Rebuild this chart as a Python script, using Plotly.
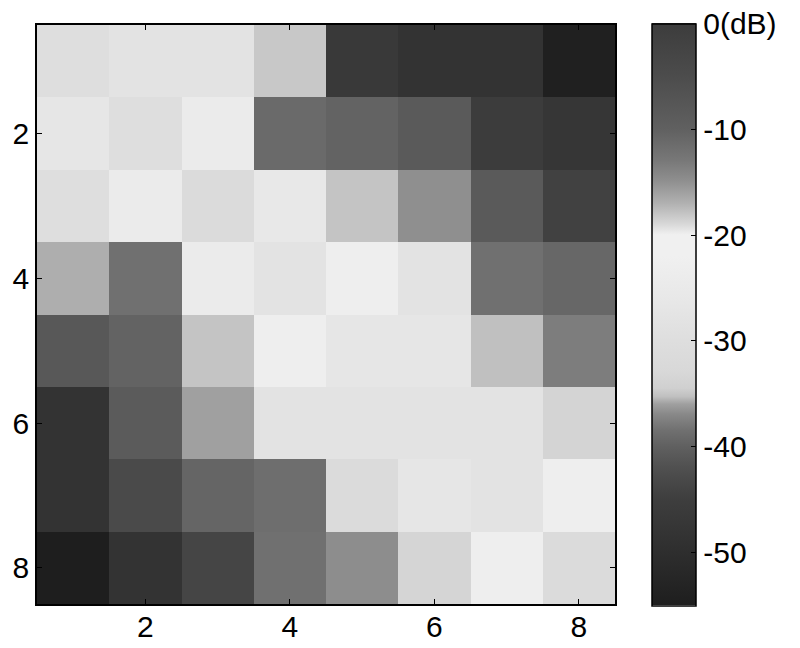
import plotly.graph_objects as go

cols = [1, 2, 3, 4, 5, 6, 7, 8]
rows = [1, 2, 3, 4, 5, 6, 7, 8]

row1 = [-30, -28, -28, -34.9, -46.5, -48.5, -48.5, -54.5]
row2 = [-27, -30, -24.5, -39.1, -39.7, -40.8, -45.5, -47.5]
row3 = [-30, -24.5, -31.5, -26, -35.1, -36.7, -40.8, -44.5]
row4 = [-35.7, -38.5, -24.5, -28, -23, -28, -38.5, -39.3]
row5 = [-41, -39.7, -35.1, -23, -27, -27, -35.3, -37.7]
row6 = [-48.5, -40.6, -36, -28, -28, -28, -28, -33.8]
row7 = [-48.5, -43, -39.5, -38.7, -31.5, -27, -28, -23]
row8 = [-55, -48.5, -43.8, -38.5, -36.8, -33.5, -23, -31.5]
z = [row1, row2, row3, row4, row5, row6, row7, row8]

axis_ticks = [2, 4, 6, 8]
cbar_tickvals = [0, -10, -20, -30, -40, -50]
cbar_ticktext = ["0(dB)", "-10", "-20", "-30", "-40", "-50"]

zmin, zmax = -55, 0
stops = [
    (-55, "#1e1e1e"), (-50, "#2e2e2e"), (-45, "#3e3e3e"), (-42, "#505050"),
    (-40, "#606060"), (-38.5, "#707070"), (-37, "#888888"), (-36, "#a0a0a0"),
    (-35.3, "#c0c0c0"), (-34.5, "#d0d0d0"), (-33, "#d8d8d8"), (-30, "#dedede"),
    (-26, "#e8e8e8"), (-22, "#f0f0f0"), (-20, "#f0f0f0"), (-19, "#d8d8d8"),
    (-17, "#b0b0b0"), (-15, "#909090"), (-13, "#787878"), (-10, "#606060"),
    (-5, "#4c4c4c"), (0, "#3c3c3c"),
]
colorscale = [[(v - zmin) / (zmax - zmin), c] for v, c in stops]

font = dict(family="Liberation Sans, Arial", size=30, color="black")

fig = go.Figure(go.Heatmap(
    x=cols, y=rows, z=z, zmin=zmin, zmax=zmax, colorscale=colorscale,
    colorbar=dict(
        x=1.064, xanchor="left", y=0.5, yanchor="middle", len=1.005,
        thickness=44, outlinecolor="black", outlinewidth=1.5,
        tickvals=cbar_tickvals, ticktext=cbar_ticktext,
        ticks="inside", ticklen=5, tickcolor="black",
        tickfont=font, ypad=0, xpad=0,
    ),
))

axis_common = dict(
    tickvals=axis_ticks, ticks="inside", ticklen=5, tickcolor="black",
    showline=True, linecolor="black", linewidth=1.5, mirror="ticks",
    showgrid=False, zeroline=False, automargin=False,
    tickfont=font,
)
fig.update_xaxes(range=[0.5, 8.5], ticklabelstandoff=-5, **axis_common)
fig.update_yaxes(range=[8.5, 0.5], **axis_common)

fig.update_layout(
    width=800, height=648,
    margin=dict(l=37, r=185, t=25, b=44, autoexpand=False),
    paper_bgcolor="white", plot_bgcolor="white",
)
fig.write_html("out.html", config={"displayModeBar": False},
               post_script="document.body.style.margin='0';")
